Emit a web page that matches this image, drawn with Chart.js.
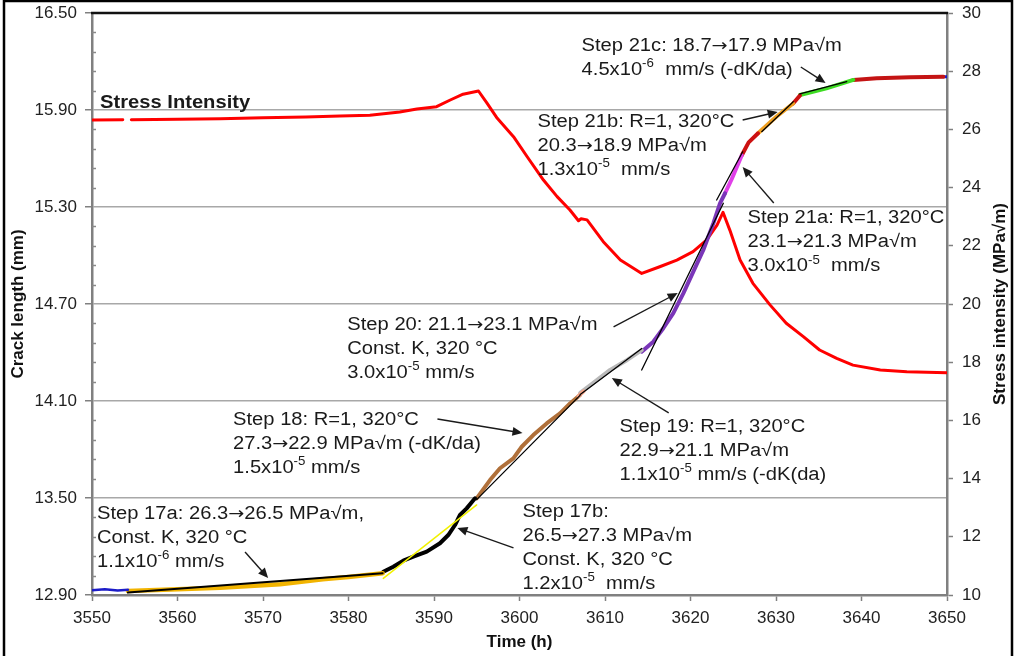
<!DOCTYPE html>
<html>
<head>
<meta charset="utf-8">
<script src="https://cdn.jsdelivr.net/npm/chart.js"></script>
<style>
html,body{margin:0;padding:0;background:#fff;}
canvas{display:block;}
</style>
</head>
<body>
<canvas id="c" width="1016" height="656"></canvas>
<script>
// ---------- tick labels ----------
const timeTicks = [3550, 3560, 3570, 3580, 3590, 3600, 3610, 3620, 3630, 3640, 3650];
const crackTicks = [12.90, 13.50, 14.10, 14.70, 15.30, 15.90, 16.50];
const stressTicks = [10, 12, 14, 16, 18, 20, 22, 24, 26, 28, 30];
const crackMinorStep = 0.12;

// ---------- stress intensity (time h, K MPa√m) ----------
const stressIntensity = [
  [3550, 26.32], [3553.6, 26.33], [3554.1, null], [3554.6, 26.33], [3560, 26.35], [3565, 26.37],
  [3570, 26.40], [3575, 26.43], [3579, 26.46], [3582.5, 26.49], [3586, 26.60], [3588, 26.70],
  [3590.3, 26.78], [3591.9, 27.01], [3593.4, 27.21], [3595.2, 27.32], [3596.2, 26.90],
  [3597.4, 26.38], [3599.3, 25.75], [3600.9, 25.06], [3602.8, 24.26], [3604.4, 23.69],
  [3605.9, 23.23], [3606.9, 22.86], [3607.2, 22.93], [3607.9, 22.89], [3609.8, 22.14],
  [3611.8, 21.51], [3614.3, 21.05], [3616.4, 21.28], [3618.4, 21.51], [3620.3, 21.80],
  [3621.9, 22.20], [3623.1, 22.71], [3623.8, 23.15], [3624.6, 22.54], [3625.8, 21.51],
  [3627.3, 20.71], [3629.3, 19.97], [3631.2, 19.34], [3633.2, 18.88], [3635.1, 18.42],
  [3637.1, 18.13], [3639.0, 17.90], [3642.2, 17.73], [3645.3, 17.67], [3650.0, 17.64]
];

// ---------- crack length segments (time h, crack length mm) ----------
const blueStart = [[3550, 12.930], [3551.5, 12.935], [3553, 12.928], [3554.2, 12.932]];
const step17aCurve = [[3554.2, 12.925], [3560, 12.935], [3565, 12.945], [3570, 12.960], [3572, 12.967],
  [3575, 12.985], [3577, 12.998], [3580, 13.012], [3584, 13.035]];
const step17aFit = [[3554.2, 12.915], [3584.0, 13.035]];
const step17bCurve = [[3584.07, 13.044], [3585.24, 13.075], [3586.41, 13.112], [3587.58, 13.137],
  [3589.15, 13.168], [3590.70, 13.220], [3591.67, 13.271], [3592.46, 13.333], [3593.04, 13.395],
  [3593.82, 13.436], [3594.80, 13.498]];
const step17bFit = [[3584.07, 13.003], [3594.99, 13.457]];
const step18Curve = [[3594.99, 13.498], [3596.55, 13.611], [3597.72, 13.684], [3599.28, 13.745],
  [3600.26, 13.817], [3601.61, 13.889], [3603.18, 13.961], [3604.74, 14.023], [3605.91, 14.085],
  [3607.08, 14.137]];
const step18Fit = [[3594.99, 13.490], [3607.08, 14.135]];
const step18End = [[3606.9, 14.130], [3607.5, 14.160]];
const step19Curve = [[3607.1, 14.150], [3608.6, 14.211], [3610.6, 14.292], [3612.6, 14.354], [3614.3, 14.415]];
const step19Fit = [[3607.1, 14.140], [3614.3, 14.425]];
const step20Curve = [[3614.29, 14.405], [3615.65, 14.467], [3616.82, 14.550], [3617.99, 14.643],
  [3619.16, 14.766], [3620.33, 14.900], [3621.50, 15.034], [3622.67, 15.199], [3623.45, 15.323],
  [3624.04, 15.385]];
const step20Fit = [[3614.29, 14.292], [3623.84, 15.323]];
const step21aCurve = [[3624.04, 15.385], [3624.8, 15.470], [3626.0, 15.620]];
const step21aFit = [[3623.06, 15.343], [3626.1, 15.642]];
const step21Hold1 = [[3626.0, 15.620], [3626.8, 15.700], [3627.9, 15.756]];
const step21bCurve = [[3627.9, 15.756], [3630.07, 15.860], [3632.0, 15.940]];
const step21bFit = [[3628.33, 15.766], [3632.02, 15.951]];
const step21Hold2 = [[3632.0, 15.940], [3632.8, 15.990]];
const step21cCurve = [[3632.8, 15.993], [3635.9, 16.034], [3639.04, 16.086]];
const step21cFit = [[3632.8, 15.999], [3638.27, 16.075]];
const holdEnd = [[3639.04, 16.086], [3641.77, 16.096], [3645.67, 16.102], [3649.57, 16.106]];
const blueEnd = [[3649.57, 16.106], [3650, 16.106]];

// ---------- annotations (anchor in time / crack length) ----------
const annotations = [
  {t: 3550.94, a: 15.912, bold: true, lines: ['Stress Intensity']},
  {t: 3607.26, a: 16.265, lines: ['Step 21c: 18.7\u219217.9 MPa\u221Am', '4.5x10^{-6}  mm/s (-dK/da)'],
   arrow: [[3632.9, 16.166], [3635.8, 16.067]]},
  {t: 3602.1, a: 15.795, lines: ['Step 21b: R=1, 320\u00B0C', '20.3\u219218.9 MPa\u221Am', '1.3x10^{-5}  mm/s'],
   arrow: [[3626.1, 15.838], [3630.2, 15.888]]},
  {t: 3626.66, a: 15.199, lines: ['Step 21a: R=1, 320\u00B0C', '23.1\u219221.3 MPa\u221Am', '3.0x10^{-5}  mm/s'],
   arrow: [[3629.74, 15.325], [3626.1, 15.547]]},
  {t: 3579.86, a: 14.539, lines: ['Step 20: 21.1\u219223.1 MPa\u221Am', 'Const. K, 320 \u00B0C', '3.0x10^{-5} mm/s'],
   arrow: [[3611.0, 14.558], [3618.5, 14.768]]},
  {t: 3566.5, a: 13.952, lines: ['Step 18: R=1, 320\u00B0C', '27.3\u219222.9 MPa\u221Am (-dK/da)', '1.5x10^{-5} mm/s'],
   arrow: [[3590.4, 13.989], [3600.35, 13.902]]},
  {t: 3611.7, a: 13.908, lines: ['Step 19: R=1, 320\u00B0C', '22.9\u219221.1 MPa\u221Am', '1.1x10^{-5} mm/s (-dK(da)'],
   arrow: [[3617.45, 14.026], [3610.8, 14.242]]},
  {t: 3600.35, a: 13.383, lines: ['Step 17b:', '26.5\u219227.3 MPa\u221Am', 'Const. K, 320 \u00B0C', '1.2x10^{-5}  mm/s'],
   arrow: [[3599.3, 13.191], [3592.74, 13.315]]},
  {t: 3550.59, a: 13.370, lines: ['Step 17a: 26.3\u219226.5 MPa\u221Am,', 'Const. K, 320 \u00B0C', '1.1x10^{-6} mm/s'],
   arrow: [[3567.9, 13.166], [3570.6, 13.005]]}
];

// ---------- styling ----------
const FONT = "'Liberation Sans', Arial, sans-serif";
const ARROW_FONT = "'DejaVu Sans', sans-serif";
const TEXT_SIZE = 18, TEXT_STRETCH = 1.12, LINE_GAP = 24;

function pts(arr) { return arr.map(p => ({x: p[0], y: p[1]})); }
const datasets = [];
function addLine(data, color, width, axis) {
  datasets.push({data: pts(data), borderColor: color, backgroundColor: color, borderWidth: width,
    yAxisID: axis || 'y', pointRadius: 0, pointHoverRadius: 0, tension: 0, fill: false,
    spanGaps: false, borderCapStyle: 'round', borderJoinStyle: 'round'});
}
// first added = drawn on top
addLine(step17bFit, '#f2f200', 1.5);
addLine(step17aFit, '#000000', 2);
addLine(step18Fit, '#000000', 1.3);
addLine(step19Fit, '#000000', 1.3);
addLine(step20Fit, '#000000', 1.3);
addLine(step21aFit, '#000000', 1.3);
addLine(step21bFit, '#000000', 1.3);
addLine(step21cFit, '#000000', 1.3);
addLine(blueStart, '#1c1cc8', 2.5);
addLine(step17aCurve, '#f2b400', 4.5);
addLine(step17bCurve, '#000000', 4);
addLine(step18End, '#f4a58a', 4);
addLine(step18Curve, '#b0703a', 4);
addLine(step19Curve, '#b9b9b9', 4);
addLine(step20Curve, '#7a36b8', 4);
addLine(step21aCurve, '#e040e8', 4);
addLine(step21Hold1, '#cc1111', 4);
addLine(step21bCurve, '#f0a020', 4);
addLine(step21Hold2, '#cc1111', 4);
addLine(step21cCurve, '#3ddc22', 4);
addLine(holdEnd, '#c41414', 4);
addLine(blueEnd, '#1c1cc8', 3);
addLine(stressIntensity, '#ff0000', 3, 'y2');

function drawRich(ctx, str, x, y, size, bold) {
  const parts = str.split(/(\^\{[^}]*\}|\u2192)/);
  ctx.save();
  ctx.translate(x, y);
  ctx.scale(TEXT_STRETCH, 1);
  ctx.textBaseline = 'alphabetic';
  ctx.textAlign = 'left';
  let cx = 0;
  for (const p of parts) {
    if (!p) continue;
    if (p.startsWith('^{')) {
      const s = p.slice(2, -1);
      ctx.font = (bold ? 'bold ' : '') + (size * 0.66) + 'px ' + FONT;
      ctx.fillText(s, cx, -size * 0.42);
      cx += ctx.measureText(s).width;
    } else if (p === '\u2192') {
      ctx.font = (size * 0.95) + 'px ' + ARROW_FONT;
      ctx.fillText(p, cx, 0);
      cx += ctx.measureText(p).width;
    } else {
      ctx.font = (bold ? 'bold ' : '') + size + 'px ' + FONT;
      ctx.fillText(p, cx, 0);
      cx += ctx.measureText(p).width;
    }
  }
  ctx.restore();
}

function drawArrow(ctx, x1, y1, x2, y2) {
  const ang = Math.atan2(y2 - y1, x2 - x1);
  const len = 10, hw = 4.5;
  ctx.beginPath();
  ctx.moveTo(x1, y1);
  ctx.lineTo(x2 - Math.cos(ang) * len * 0.8, y2 - Math.sin(ang) * len * 0.8);
  ctx.stroke();
  ctx.beginPath();
  ctx.moveTo(x2, y2);
  ctx.lineTo(x2 - Math.cos(ang) * len - Math.sin(ang) * hw, y2 - Math.sin(ang) * len + Math.cos(ang) * hw);
  ctx.lineTo(x2 - Math.cos(ang) * len + Math.sin(ang) * hw, y2 - Math.sin(ang) * len - Math.cos(ang) * hw);
  ctx.closePath();
  ctx.fill();
}

const bgPlugin = {
  id: 'bg',
  beforeDraw(chart) {
    const c = chart.ctx;
    c.save();
    c.fillStyle = '#ffffff';
    c.fillRect(0, 0, chart.width, chart.height);
    c.restore();
  }
};

const decoPlugin = {
  id: 'deco',
  afterDraw(chart) {
    const c = chart.ctx;
    const area = chart.chartArea;
    const xs = chart.scales.x, ys = chart.scales.y;
    c.save();
    // minor ticks on crack-length axis (inside)
    c.strokeStyle = '#8a8a8a';
    c.lineWidth = 1.5;
    const lo = crackTicks[0], hi = crackTicks[crackTicks.length - 1];
    const n = Math.round((hi - lo) / crackMinorStep);
    for (let k = 1; k < n; k++) {
      if (k % 5 === 0) continue;
      const py = Math.round(ys.getPixelForValue(lo + k * crackMinorStep)) + 0.5;
      c.beginPath(); c.moveTo(area.left, py); c.lineTo(area.left + 4, py); c.stroke();
    }
    // top frame line
    c.strokeStyle = '#111';
    c.lineWidth = 2.5;
    c.beginPath(); c.moveTo(area.left - 1, area.top); c.lineTo(area.right + 1, area.top); c.stroke();

    // annotations
    c.fillStyle = '#1a1a1a';
    c.strokeStyle = '#1a1a1a';
    c.lineWidth = 1.4;
    for (const an of annotations) {
      const x = xs.getPixelForValue(an.t), y = ys.getPixelForValue(an.a);
      an.lines.forEach((ln, i) => drawRich(c, ln, x, y + i * LINE_GAP, TEXT_SIZE, !!an.bold));
      if (an.arrow) {
        const [p, q] = an.arrow;
        drawArrow(c, xs.getPixelForValue(p[0]), ys.getPixelForValue(p[1]),
                     xs.getPixelForValue(q[0]), ys.getPixelForValue(q[1]));
      }
    }

    // right axis title (reads bottom to top)
    c.save();
    c.translate(1000, (area.top + area.bottom) / 2);
    c.rotate(-Math.PI / 2);
    c.font = 'bold 17px ' + FONT;
    c.fillStyle = '#111';
    c.textAlign = 'center';
    c.textBaseline = 'middle';
    c.fillText('Stress intensity (MPa\u221Am)', 0, 0);
    c.restore();

    // outer frame
    c.strokeStyle = '#000';
    c.lineWidth = 2.5;
    c.beginPath();
    c.moveTo(4, chart.height); c.lineTo(4, 1); c.lineTo(1012, 1); c.lineTo(1012, chart.height);
    c.stroke();
    c.restore();
  }
};

const tickFont = {family: FONT, size: 17};
const titleFont = {family: FONT, size: 17, weight: 'bold'};

function fixVertical(width) {
  return s => { s.width = width; s.paddingTop = 4; s.paddingBottom = 4; };
}

new Chart(document.getElementById('c'), {
  type: 'line',
  data: {datasets},
  options: {
    responsive: false,
    animation: false,
    devicePixelRatio: 1,
    layout: {padding: {top: 13, left: 0, right: 0, bottom: 0}},
    plugins: {legend: {display: false}, tooltip: {enabled: false}, title: {display: false}},
    events: [],
    scales: {
      x: {
        type: 'linear', position: 'bottom', min: timeTicks[0], max: timeTicks[timeTicks.length - 1],
        afterBuildTicks: s => { s.ticks = timeTicks.map(v => ({value: v})); },
        afterFit: s => { s.height = 61; s.paddingLeft = 4; s.paddingRight = 4; },
        ticks: {font: tickFont, color: '#222', padding: 7, maxRotation: 0, autoSkip: false,
                callback: v => String(v)},
        grid: {drawOnChartArea: false, tickLength: 6, tickColor: '#808080', tickWidth: 1.5},
        border: {color: '#808080', width: 2.5},
        title: {display: true, text: 'Time (h)', font: titleFont, color: '#111', padding: {top: 0, bottom: 3}}
      },
      y: {
        type: 'linear', position: 'left', min: crackTicks[0], max: crackTicks[crackTicks.length - 1],
        afterBuildTicks: s => { s.ticks = crackTicks.map(v => ({value: v})); },
        afterFit: fixVertical(92),
        ticks: {font: tickFont, color: '#222', padding: 8, autoSkip: false, callback: v => Number(v).toFixed(2)},
        grid: {
          color: c => (c.tick && Math.abs(c.tick.value - crackTicks[crackTicks.length - 1]) < 1e-6) ? 'rgba(0,0,0,0)' : '#a8a8a8',
          lineWidth: 1.5, tickLength: 7, tickColor: '#808080', tickWidth: 1.5
        },
        border: {color: '#808080', width: 2.5},
        title: {display: true, text: 'Crack length (mm)', font: titleFont, color: '#111', padding: {top: 8, bottom: 0}}
      },
      y2: {
        type: 'linear', position: 'right', min: stressTicks[0], max: stressTicks[stressTicks.length - 1],
        afterBuildTicks: s => { s.ticks = stressTicks.map(v => ({value: v})); },
        afterFit: fixVertical(69),
        ticks: {font: tickFont, color: '#222', padding: 9, autoSkip: false, callback: v => String(v)},
        grid: {drawOnChartArea: false, tickLength: 6, tickColor: '#808080', tickWidth: 1.5},
        border: {color: '#808080', width: 2.5},
        title: {display: false}
      }
    }
  },
  plugins: [bgPlugin, decoPlugin]
});
</script>
</body>
</html>
